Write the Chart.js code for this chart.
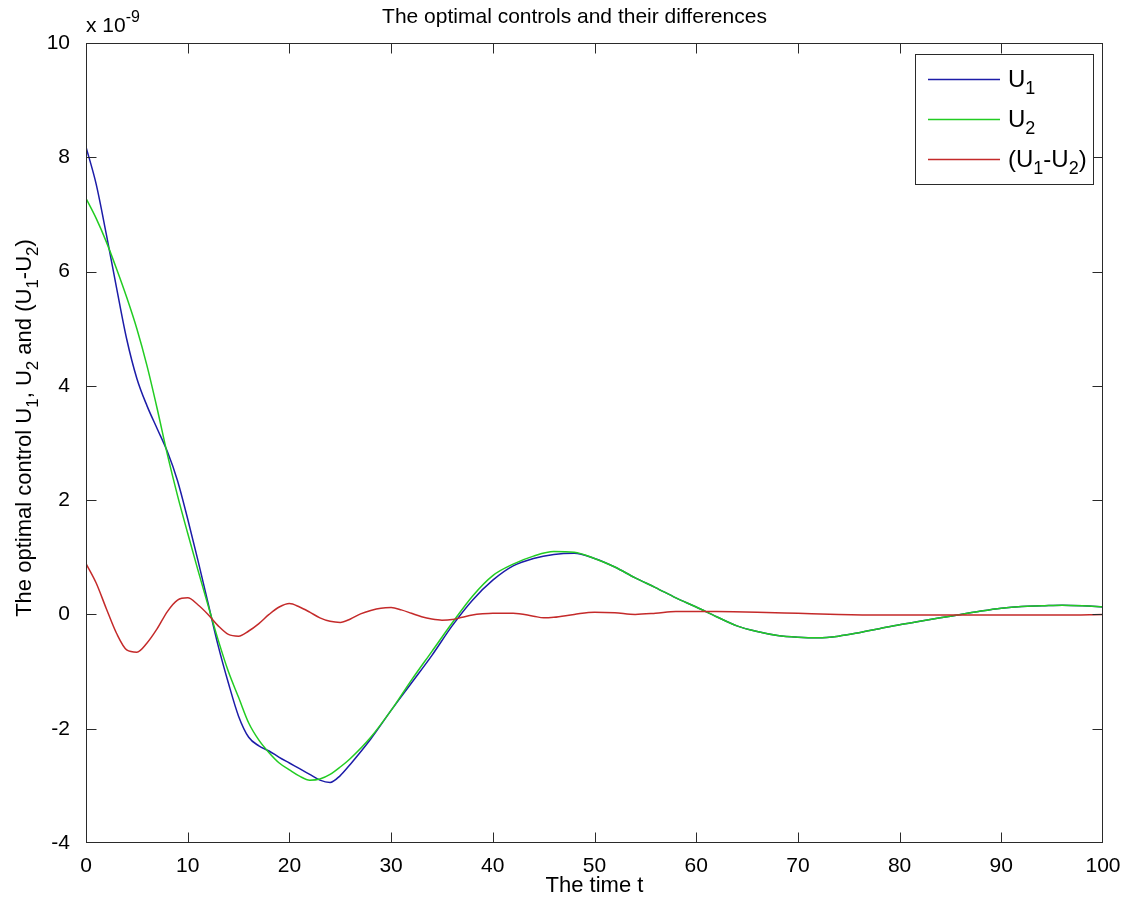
<!DOCTYPE html>
<html>
<head>
<meta charset="utf-8">
<title>The optimal controls and their differences</title>
<script src="https://cdn.jsdelivr.net/npm/chart.js@4.4.1/dist/chart.umd.min.js"></script>
<style>
  html, body { margin: 0; padding: 0; background: #fff; }
  #wrap { width: 1130px; height: 906px; }
</style>
</head>
<body>
<div id="wrap"><canvas id="grafico"></canvas></div>
<script>
// valores em unidades de 1e-9 (fator "x 10^-9" no topo do eixo)
const tempoU = [0, 1, 2, 3, 4, 5, 6, 7, 8, 9, 10, 11, 12, 13, 14, 15, 16, 17, 18, 19, 20,
  21, 22, 23, 24, 25, 26, 28, 30, 32, 34, 36, 38, 40, 42, 44, 46, 48, 50, 52, 54, 56, 58,
  60, 62, 64, 66, 68, 70, 72, 74, 76, 78, 80, 82, 84, 86, 88, 90, 92, 94, 96, 98, 100];

const u1 = [8.18, 7.53, 6.65, 5.72, 4.82, 4.13, 3.65, 3.25, 2.85, 2.34, 1.67, 0.95, 0.2,
  -0.55, -1.2, -1.78, -2.15, -2.3, -2.39, -2.5, -2.6, -2.7, -2.8, -2.9, -2.94, -2.82, -2.62,
  -2.18, -1.68, -1.2, -0.72, -0.2, 0.25, 0.6, 0.85, 0.98, 1.05, 1.07, 0.98, 0.83, 0.64, 0.47,
  0.29, 0.13, -0.04, -0.2, -0.3, -0.37, -0.4, -0.41, -0.38, -0.32, -0.25, -0.18, -0.12,
  -0.06, 0.0, 0.06, 0.11, 0.14, 0.15, 0.16, 0.15, 0.13];

const u2 = [7.28, 6.93, 6.52, 6.05, 5.55, 5.0, 4.35, 3.6, 2.8, 2.08, 1.42, 0.78, 0.16,
  -0.45, -1.0, -1.45, -1.9, -2.2, -2.42, -2.6, -2.72, -2.83, -2.9, -2.88, -2.8, -2.67, -2.52,
  -2.15, -1.68, -1.15, -0.65, -0.15, 0.32, 0.68, 0.88, 1.02, 1.1, 1.09, 0.98, 0.83, 0.64, 0.47,
  0.29, 0.13, -0.04, -0.2, -0.3, -0.37, -0.4, -0.41, -0.38, -0.32, -0.25, -0.18, -0.12,
  -0.06, 0.0, 0.06, 0.11, 0.14, 0.15, 0.16, 0.15, 0.13];

const tempoDif = [0, 1, 2, 3, 4, 5, 6, 7, 8, 9, 10, 11, 12, 13, 14, 15, 16, 17, 18, 19, 20,
  21, 22, 23, 24, 25, 26, 27, 28, 29, 30, 31, 32, 33, 34, 35, 36, 37, 38, 39, 40, 42, 44, 45,
  46, 48, 50, 52, 54, 56, 58, 62, 66, 70, 74, 78, 84, 90, 96, 100];

const dif = [0.89, 0.55, 0.1, -0.33, -0.62, -0.66, -0.5, -0.25, 0.05, 0.25, 0.29, 0.17, 0.0,
  -0.2, -0.35, -0.38, -0.29, -0.16, 0.0, 0.13, 0.19, 0.13, 0.04, -0.06, -0.12, -0.14, -0.08,
  0.01, 0.07, 0.11, 0.12, 0.08, 0.02, -0.04, -0.08, -0.1, -0.09, -0.05, -0.01, 0.01, 0.02,
  0.02, -0.03, -0.06, -0.05, 0.0, 0.04, 0.03, 0.0, 0.02, 0.05, 0.05, 0.04, 0.02, 0.0, -0.01,
  -0.01, -0.01, -0.01, 0.0];

const ticksX = [0, 10, 20, 30, 40, 50, 60, 70, 80, 90, 100];
const ticksY = [-4, -2, 0, 2, 4, 6, 8, 10];

// textos com indices (0 = normal, 1 = subscrito, -1 = sobrescrito)
const rotulos = [
  [['U', 0], ['1', 1]],
  [['U', 0], ['2', 1]],
  [['(U', 0], ['1', 1], ['-U', 0], ['2', 1], [')', 0]]
];
const tituloY = [['The optimal control U', 0], ['1', 1], [', U', 0], ['2', 1],
  [' and (U', 0], ['1', 1], ['-U', 0], ['2', 1], [')', 0]];
const cores = ['#1c1ca8', '#22cc22', '#c42a2a'];

const FONTE = '"Liberation Sans", Arial, Helvetica, sans-serif';
Chart.defaults.font.family = FONTE;
Chart.defaults.color = '#000';

function pares(xs, ys) {
    return xs.map((x, i) => ({ x: x, y: ys[i] }));
}

function textoRico(ctx, partes, x, y, tam, alinhar) {
    const tamDe = p => (p[1] !== 0 ? Math.round(tam * 0.75) : tam);
    let total = 0;
    partes.forEach(p => {
        ctx.font = tamDe(p) + 'px ' + FONTE;
        total += ctx.measureText(p[0]).width;
    });
    let cx = alinhar === 'center' ? x - total / 2 : x;
    partes.forEach(p => {
        ctx.font = tamDe(p) + 'px ' + FONTE;
        let dy = 0;
        if (p[1] === 1) dy = tam * 0.3;
        if (p[1] === -1) dy = -tam * 0.5;
        ctx.fillText(p[0], cx, y + dy);
        cx += ctx.measureText(p[0]).width;
    });
}

const moldura = {
    id: 'moldura',
    afterDraw(chart) {
        const { ctx, chartArea: a, scales: { x, y } } = chart;
        const xl = Math.round(a.left) + 0.5, xr = Math.round(a.right) - 0.5;
        const yt = Math.round(a.top) + 0.5, yb = Math.round(a.bottom) - 0.5;
        const px = v => Math.min(Math.max(Math.round(x.getPixelForValue(v)) + 0.5, xl), xr);
        const py = v => Math.min(Math.max(Math.round(y.getPixelForValue(v)) + 0.5, yt), yb);
        ctx.save();
        ctx.strokeStyle = '#2a2a2a';
        ctx.lineWidth = 1;

        // caixa e marcas para dentro
        ctx.strokeRect(xl, yt, xr - xl, yb - yt);
        ctx.beginPath();
        x.ticks.forEach(t => {
            const p = px(t.value);
            ctx.moveTo(p, yb); ctx.lineTo(p, yb - 10);
            ctx.moveTo(p, yt); ctx.lineTo(p, yt + 10);
        });
        y.ticks.forEach(t => {
            const p = py(t.value);
            ctx.moveTo(xl, p); ctx.lineTo(xl + 10, p);
            ctx.moveTo(xr, p); ctx.lineTo(xr - 10, p);
        });
        ctx.stroke();

        ctx.fillStyle = '#000';
        ctx.textBaseline = 'alphabetic';

        // titulo
        ctx.textAlign = 'center';
        ctx.font = '21px ' + FONTE;
        ctx.fillText('The optimal controls and their differences', (a.left + a.right) / 2 - 20, 23);

        // fator de escala
        ctx.textAlign = 'left';
        textoRico(ctx, [['x 10', 0], ['-9', -1]], a.left, 32, 21, 'left');

        // titulo do eixo y
        ctx.save();
        ctx.translate(31, 428);
        ctx.rotate(-Math.PI / 2);
        textoRico(ctx, tituloY, 0, 0, 22, 'center');
        ctx.restore();

        // legenda
        const lx = 915, ly = 54, lw = 178, lh = 130;
        ctx.fillStyle = '#fff';
        ctx.fillRect(lx, ly, lw, lh);
        ctx.strokeStyle = '#2a2a2a';
        ctx.strokeRect(lx + 0.5, ly + 0.5, lw, lh);
        rotulos.forEach((r, i) => {
            const yy = ly + 25 + i * 40;
            ctx.strokeStyle = cores[i];
            ctx.lineWidth = 1.5;
            ctx.beginPath();
            ctx.moveTo(lx + 13, yy + 0.5);
            ctx.lineTo(lx + 85, yy + 0.5);
            ctx.stroke();
            ctx.fillStyle = '#000';
            textoRico(ctx, r, lx + 93, yy + 8, 24, 'left');
        });
        ctx.restore();
    }
};

function criarGrafico() {
    const canvas = document.getElementById('grafico');

    new Chart(canvas, {
        type: 'line',
        data: {
            datasets: [{
                label: 'U1',
                data: pares(tempoU, u1),
                borderColor: cores[0],
                borderWidth: 1.5,
                pointRadius: 0,
                cubicInterpolationMode: 'monotone',
                order: 3
            }, {
                label: 'U2',
                data: pares(tempoU, u2),
                borderColor: cores[1],
                borderWidth: 1.5,
                pointRadius: 0,
                cubicInterpolationMode: 'monotone',
                order: 2
            }, {
                label: '(U1-U2)',
                data: pares(tempoDif, dif),
                borderColor: cores[2],
                borderWidth: 1.5,
                pointRadius: 0,
                cubicInterpolationMode: 'monotone',
                order: 1
            }]
        },
        options: {
            responsive: true,
            maintainAspectRatio: false,
            animation: false,
            layout: {
                padding: { left: 0, top: 43, right: 27, bottom: 0 }
            },
            plugins: {
                legend: { display: false },
                tooltip: { enabled: false }
            },
            scales: {
                x: {
                    type: 'linear',
                    min: 0,
                    max: 100,
                    afterBuildTicks: s => { s.ticks = ticksX.map(v => ({ value: v })); },
                    afterFit: s => { s.height = 63; },
                    grid: { display: false },
                    border: { display: false },
                    ticks: { padding: 3, font: { size: 21 }, maxRotation: 0 },
                    title: {
                        display: true,
                        text: 'The time t',
                        font: { size: 22 },
                        padding: { top: 0, bottom: 7 }
                    }
                },
                y: {
                    type: 'linear',
                    min: -4,
                    max: 10,
                    afterBuildTicks: s => { s.ticks = ticksY.map(v => ({ value: v })); },
                    afterFit: s => { s.width = 86; },
                    grid: { display: false },
                    border: { display: false },
                    ticks: { padding: 8, font: { size: 21 } }
                }
            }
        },
        plugins: [moldura]
    });
}

window.onload = function () {
    criarGrafico();
};
</script>
</body>
</html>
